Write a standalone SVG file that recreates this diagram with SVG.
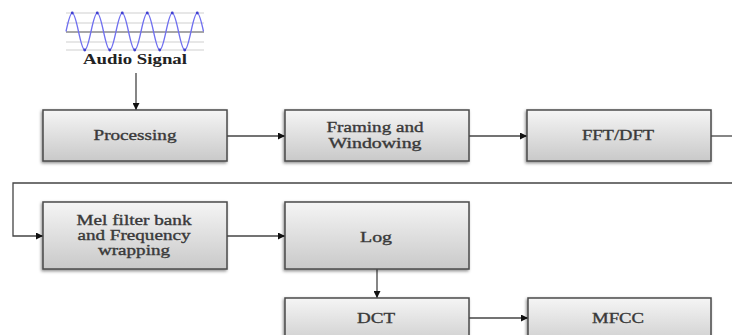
<svg xmlns="http://www.w3.org/2000/svg" width="732" height="335" viewBox="0 0 732 335">
<defs>
<linearGradient id="boxg" x1="0" y1="0" x2="0" y2="1">
<stop offset="0" stop-color="#f5f5f5"/>
<stop offset="1" stop-color="#c9c9c9"/>
</linearGradient>
<filter id="sh" x="-10%" y="-20%" width="120%" height="140%">
<feDropShadow dx="-1" dy="1.5" stdDeviation="1.5" flood-color="#000" flood-opacity="0.45"/>
</filter>
<marker id="arr" viewBox="0 0 10 10" refX="10" refY="5" markerWidth="7" markerHeight="7" markerUnits="userSpaceOnUse" orient="auto">
<path d="M0,0 L10,5 L0,10 z" fill="#111"/>
</marker>
<style>
.box{fill:url(#boxg);stroke:#4a4a4a;stroke-width:1.5;filter:url(#sh)}
.t{font-family:"Liberation Serif","Times New Roman",serif;font-size:14px;fill:#3a3a3a;stroke:#3a3a3a;stroke-width:0.35;text-anchor:middle}
.c{fill:none;stroke:#444;stroke-width:1.3}
.ca{fill:none;stroke:#444;stroke-width:1.3;marker-end:url(#arr)}
.gl{stroke:#cfcfcf;stroke-width:1}
</style>
</defs>
<rect width="732" height="335" fill="#fff"/>

<g id="audio">
<line class="gl" x1="66" y1="13" x2="204" y2="13"/>
<line class="gl" x1="66" y1="23" x2="204" y2="23"/>
<line class="gl" x1="66" y1="42" x2="204" y2="42"/>
<line class="gl" x1="66" y1="50" x2="204" y2="50"/>
<line x1="66" y1="32" x2="204" y2="32" stroke="#8a8a8a" stroke-width="1.5"/>
<path fill="none" stroke="#7070f0" stroke-width="1.3" d="M66,31.5 c2.04,-9.48 4.21,-18.5 6.25,-18.5 c2.04,0 4.21,9.02 6.25,18.5 c2.04,9.48 4.21,18.5 6.25,18.5 c2.04,0 4.21,-9.02 6.25,-18.5 c2.04,-9.48 4.21,-18.5 6.25,-18.5 c2.04,0 4.21,9.02 6.25,18.5 c2.04,9.48 4.21,18.5 6.25,18.5 c2.04,0 4.21,-9.02 6.25,-18.5 c2.04,-9.48 4.21,-18.5 6.25,-18.5 c2.04,0 4.21,9.02 6.25,18.5 c2.04,9.48 4.21,18.5 6.25,18.5 c2.04,0 4.21,-9.02 6.25,-18.5 c2.04,-9.48 4.21,-18.5 6.25,-18.5 c2.04,0 4.21,9.02 6.25,18.5 c2.04,9.48 4.21,18.5 6.25,18.5 c2.04,0 4.21,-9.02 6.25,-18.5 c2.04,-9.48 4.21,-18.5 6.25,-18.5 c2.04,0 4.21,9.02 6.25,18.5 c2.04,9.48 4.21,18.5 6.25,18.5 c2.04,0 4.21,-9.02 6.25,-18.5 c2.04,-9.48 4.21,-18.5 6.25,-18.5 c2.04,0 4.21,9.02 6.25,18.5"/>
<g fill="#4040d0">
<circle cx="72.25" cy="13" r="1.4"/><circle cx="97.25" cy="13" r="1.4"/><circle cx="122.25" cy="13" r="1.4"/><circle cx="147.25" cy="13" r="1.4"/><circle cx="172.25" cy="13" r="1.4"/><circle cx="197.25" cy="13" r="1.4"/>
<circle cx="84.75" cy="50" r="1.4"/><circle cx="109.75" cy="50" r="1.4"/><circle cx="134.75" cy="50" r="1.4"/><circle cx="159.75" cy="50" r="1.4"/><circle cx="184.75" cy="50" r="1.4"/>
</g>
<text x="135" y="64" font-family="'Liberation Serif','Times New Roman',serif" font-size="14" font-weight="bold" fill="#222" text-anchor="middle" textLength="104" lengthAdjust="spacingAndGlyphs">Audio Signal</text>
</g>

<g id="connectors">
<line class="ca" x1="136" y1="73" x2="136" y2="110"/>
<line class="ca" x1="227" y1="136" x2="285" y2="136"/>
<line class="ca" x1="469" y1="136" x2="527" y2="136"/>
<line class="c" x1="711" y1="136" x2="732" y2="136"/>
<path class="ca" d="M732,183 H13 V236 H43"/>
<line class="ca" x1="227" y1="236" x2="285" y2="236"/>
<line class="ca" x1="377" y1="269" x2="377" y2="298"/>
<line class="ca" x1="469" y1="318" x2="528" y2="318"/>
</g>

<g id="processing">
<rect class="box" x="43" y="110" width="184" height="51"/>
<text class="t" x="135" y="140" textLength="83" lengthAdjust="spacingAndGlyphs">Processing</text>
</g>
<g id="framing">
<rect class="box" x="285" y="110" width="184" height="51"/>
<text class="t" x="375" y="132" textLength="97" lengthAdjust="spacingAndGlyphs">Framing and</text>
<text class="t" x="375" y="148" textLength="93" lengthAdjust="spacingAndGlyphs">Windowing</text>
</g>
<g id="fft">
<rect class="box" x="527" y="110" width="184" height="51"/>
<text class="t" x="618" y="140" textLength="72" lengthAdjust="spacingAndGlyphs">FFT/DFT</text>
</g>
<g id="mel">
<rect class="box" x="43" y="202" width="184" height="67"/>
<text class="t" x="134" y="225" textLength="115" lengthAdjust="spacingAndGlyphs">Mel filter bank</text>
<text class="t" x="134" y="240" textLength="113" lengthAdjust="spacingAndGlyphs">and Frequency</text>
<text class="t" x="134" y="255" textLength="72" lengthAdjust="spacingAndGlyphs">wrapping</text>
</g>
<g id="log">
<rect class="box" x="285" y="202" width="184" height="67"/>
<text class="t" x="376" y="242" textLength="32" lengthAdjust="spacingAndGlyphs">Log</text>
</g>
<g id="dct">
<rect class="box" x="285" y="298" width="184" height="52"/>
<text class="t" x="376" y="323" textLength="38" lengthAdjust="spacingAndGlyphs">DCT</text>
</g>
<g id="mfcc">
<rect class="box" x="528" y="298" width="183" height="52"/>
<text class="t" x="618" y="323" textLength="52" lengthAdjust="spacingAndGlyphs">MFCC</text>
</g>
</svg>
